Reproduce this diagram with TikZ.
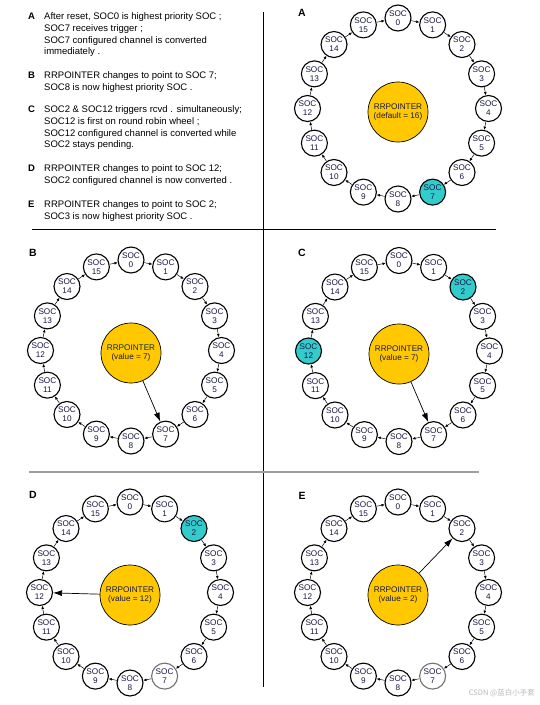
\documentclass[tikz,border=0pt]{standalone}
\usepackage{fontspec}
\setmainfont{Liberation Sans}
\newfontfamily\cjkfont{Noto Sans CJK SC}
\usetikzlibrary{arrows.meta}

\definecolor{rrgold}{RGB}{255,200,0}
\definecolor{socteal}{RGB}{51,204,204}
\definecolor{soctext}{RGB}{25,25,65}

\tikzset{
  soc/.style={circle,draw,line width=1.1pt,minimum size=26pt,inner sep=0pt,
    align=center,font=\fontsize{8.2}{8.8}\selectfont,text=soctext},
  rrptr/.style={circle,draw,line width=0.7pt,fill=rrgold,minimum size=60pt,
    inner sep=0pt,align=center,font=\fontsize{8.2}{9.6}\selectfont,text=soctext},
  ring/.style={-{Latex[length=3.2pt,width=2.8pt]},line width=0.5pt},
  pointer/.style={-{Latex[length=9pt,width=6pt]},line width=0.7pt},
  panel/.style={inner sep=0pt,font=\fontsize{10.5}{12}\selectfont\bfseries},
  notekey/.style={anchor=north west,inner sep=0pt,font=\fontsize{9.5}{11.8}\selectfont\bfseries},
  note/.style={anchor=north west,inner sep=0pt,align=left,font=\fontsize{9.5}{11.8}\selectfont},
  sep/.style={line width=0.9pt}
}

% #1 name, #2/#3 centre, #4 teal SOCs, #5 greyed SOCs
\newcommand{\socwheel}[5]{%
  \begin{scope}[shift={(#2,#3)}]
    \foreach \k in {0,...,15}{
      \def\socfill{white}\def\socline{black}
      \foreach \h in {#4}{\ifnum\h=\k \gdef\socfill{socteal}\fi}
      \foreach \h in {#5}{\ifnum\h=\k \gdef\socline{black!55}\fi}
      \node[soc,fill=\socfill,draw=\socline] (#1\k)
        at ({90.5*cos(22.5*\k-90)},{90.5*sin(22.5*\k-90)}) {SOC\\\k};
    }
    \foreach \k [evaluate=\k as \n using {int(mod(\k+1,16))}] in {0,...,15}{
      \draw[ring] (#1\k) -- (#1\n);
    }
  \end{scope}}

\begin{document}
\begin{tikzpicture}[x=1pt,y=-1pt]
\useasboundingbox (0,0) rectangle (539,705);

% notes
\node[notekey] (keyA) at (28,12.4) {A};
\node[note] (txtA) at (44,12.4) {After reset, SOC0 is highest priority SOC ;\\SOC7 receives trigger ;\\SOC7 configured channel is converted\\immediately .};
\node[notekey] (keyB) at (28,71.4) {B};
\node[note] (txtB) at (44,71.4) {RRPOINTER changes to point to SOC 7;\\SOC8 is now highest priority SOC .};
\node[notekey] (keyC) at (28,105.4) {C};
\node[note] (txtC) at (44,105.4) {SOC2 \& SOC12 triggers rcvd . simultaneously;\\SOC12 is first on round robin wheel ;\\SOC12 configured channel is converted while\\SOC2 stays pending.};
\node[notekey] (keyD) at (28,164.4) {D};
\node[note] (txtD) at (44,164.4) {RRPOINTER changes to point to SOC 12;\\SOC2 configured channel is now converted .};
\node[notekey] (keyE) at (28,200.4) {E};
\node[note] (txtE) at (44,200.4) {RRPOINTER changes to point to SOC 2;\\SOC3 is now highest priority SOC .};

% frame
\draw[sep] (263,12) -- (263,687);
\draw[sep] (32,229) -- (496,229);
\draw[sep,gray!75,line width=1.2pt] (29,472) -- (479,472);

% panel A
\node[panel] (lblA) at (302,13) {A};
\socwheel{A}{398}{108.5}{7}{-1}
\node[rrptr] (rrA) at (398,112) {RRPOINTER\\(default = 16)};

% panel B
\node[panel] (lblB) at (33,253) {B};
\socwheel{B}{131}{350.5}{-1}{-1}
\node[rrptr] (rrB) at (131,353) {\textcolor{teal!40!black}{RRPOINTER}\\(value = 7)};
\draw[pointer] (rrB) -- (B7);

% panel C
\node[panel] (lblC) at (302,253) {C};
\socwheel{C}{399}{351}{2,12}{-1}
\node[rrptr] (rrC) at (399,354) {RRPOINTER\\(value = 7)};
\draw[pointer] (rrC) -- (C7);

% panel D
\node[panel] (lblD) at (33,495) {D};
\socwheel{D}{130}{592.5}{2}{7}
\node[rrptr] (rrD) at (130,595) {RRPOINTER\\(value = 12)};
\draw[pointer] (rrD) -- (D12);

% panel E
\node[panel] (lblE) at (302,496) {E};
\socwheel{E}{398}{592.5}{-1}{7}
\node[rrptr] (rrE) at (398,595) {RRPOINTER\\(value = 2)};
\draw[pointer] (rrE) -- (E2);

\node[font=\fontsize{7.5}{9}\cjkfont,text=gray!55,anchor=east,inner sep=0pt] (mark) at (535,693) {CSDN @蓝白小手套};
\end{tikzpicture}
\end{document}
